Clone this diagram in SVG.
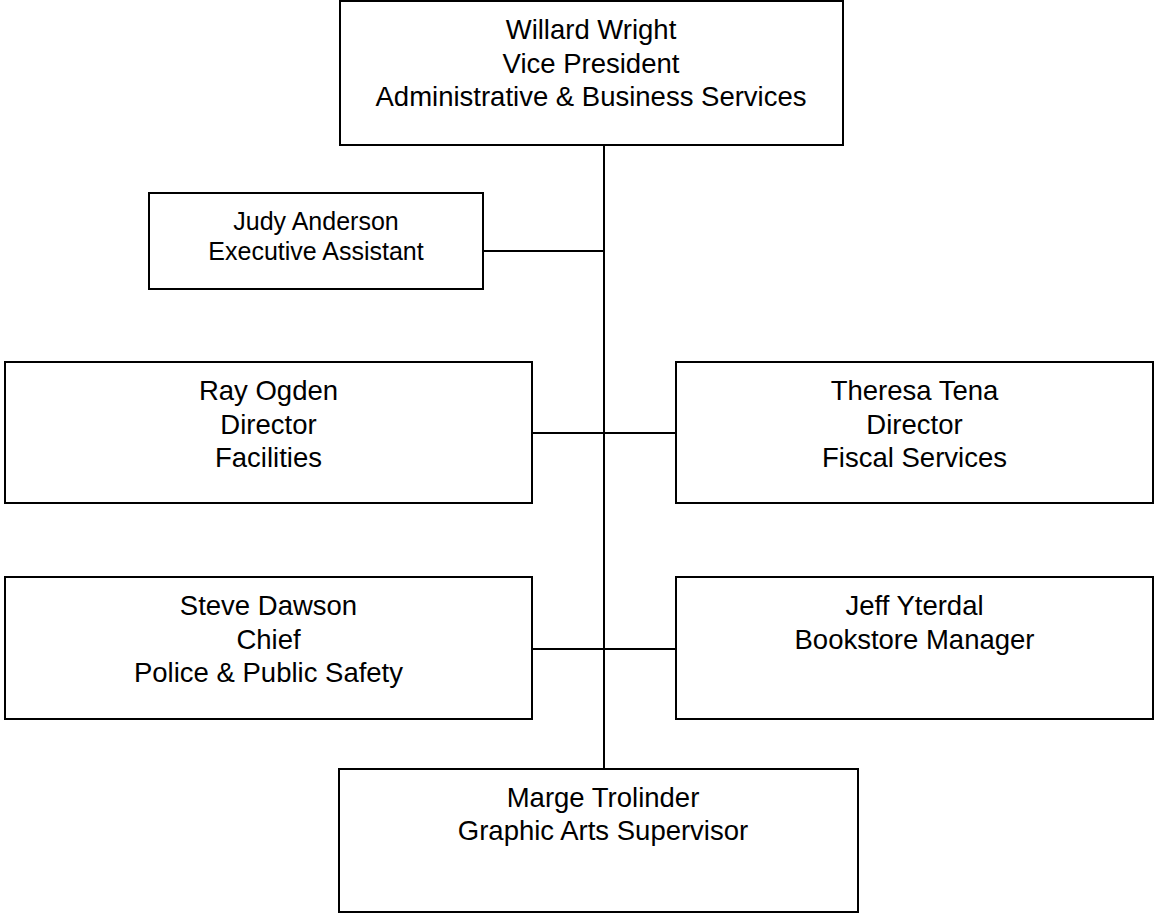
<svg xmlns="http://www.w3.org/2000/svg" width="1155" height="916" viewBox="0 0 1155 916">
  <style>
    .box { fill: #ffffff; stroke: #000000; stroke-width: 2; }
    .wire { fill: none; stroke: #000000; stroke-width: 2; }
    .t { font-family: "Liberation Sans", Arial, sans-serif; font-size: 27.5px; fill: #000000; text-anchor: middle; }
    .s { font-family: "Liberation Sans", Arial, sans-serif; font-size: 25px; fill: #000000; text-anchor: middle; }
  </style>
  <rect width="1155" height="916" fill="#ffffff"/>

  <!-- reporting lines -->
  <g id="connectors">
    <line class="wire" x1="604" y1="145" x2="604" y2="769"/>
    <line class="wire" x1="483" y1="251" x2="604" y2="251"/>
    <line class="wire" x1="532" y1="433" x2="676" y2="433"/>
    <line class="wire" x1="532" y1="649" x2="676" y2="649"/>
  </g>

  <g id="willard-wright">
    <rect class="box" x="340" y="1" width="503" height="144"/>
    <text class="t" x="591" y="39">Willard Wright</text>
    <text class="t" x="591" y="72.5">Vice President</text>
    <text class="t" x="591" y="106">Administrative &amp; Business Services</text>
  </g>

  <g id="judy-anderson">
    <rect class="box" x="149" y="193" width="334" height="96"/>
    <text class="s" x="316" y="230">Judy Anderson</text>
    <text class="s" x="316" y="260">Executive Assistant</text>
  </g>

  <g id="ray-ogden">
    <rect class="box" x="5" y="362" width="527" height="141"/>
    <text class="t" x="268.5" y="400">Ray Ogden</text>
    <text class="t" x="268.5" y="433.5">Director</text>
    <text class="t" x="268.5" y="467">Facilities</text>
  </g>

  <g id="theresa-tena">
    <rect class="box" x="676" y="362" width="477" height="141"/>
    <text class="t" x="914.5" y="400">Theresa Tena</text>
    <text class="t" x="914.5" y="433.5">Director</text>
    <text class="t" x="914.5" y="467">Fiscal Services</text>
  </g>

  <g id="steve-dawson">
    <rect class="box" x="5" y="577" width="527" height="142"/>
    <text class="t" x="268.5" y="615">Steve Dawson</text>
    <text class="t" x="268.5" y="648.5">Chief</text>
    <text class="t" x="268.5" y="682">Police &amp; Public Safety</text>
  </g>

  <g id="jeff-yterdal">
    <rect class="box" x="676" y="577" width="477" height="142"/>
    <text class="t" x="914.5" y="615">Jeff Yterdal</text>
    <text class="t" x="914.5" y="648.5">Bookstore Manager</text>
  </g>

  <g id="marge-trolinder">
    <rect class="box" x="339" y="769" width="519" height="143"/>
    <text class="t" x="603" y="807">Marge Trolinder</text>
    <text class="t" x="603" y="840">Graphic Arts Supervisor</text>
  </g>
</svg>
